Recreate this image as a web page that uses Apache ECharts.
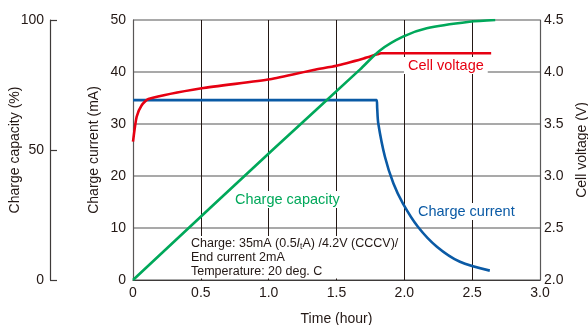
<!DOCTYPE html>
<html>
<head>
<meta charset="utf-8">
<script src="https://cdn.jsdelivr.net/npm/echarts@6/dist/echarts.min.js"></script>
<style>
html,body{margin:0;padding:0;background:#fff;}
#c{width:588px;height:325px;}
</style>
</head>
<body>
<div id="c"></div>
<script>
// Time (hour), charge current (mA)
const currentTime  = [0, 1.796, 1.80, 1.808, 1.857, 1.919, 1.99, 2.10, 2.24, 2.41, 2.63];
const currentValue = [34.6, 34.6, 33.0, 30.1, 23.7, 18.6, 14.7, 10.25, 6.4, 3.5, 1.8];

// Time (hour), cell voltage (V)
const voltageTime  = [0, 0.027, 0.064, 0.113, 0.506, 1.01, 1.33, 1.50, 1.70, 1.80, 1.83, 2.64];
const voltageValue = [3.33, 3.57, 3.68, 3.74, 3.843, 3.93, 4.02, 4.06, 4.13, 4.17, 4.18, 4.18];

// Time (hour), charge capacity (%)
const capacityTime  = [0, 1.034, 1.672, 1.82, 1.99, 2.165, 2.48, 2.67];
const capacityValue = [0, 50.3, 80.9, 88.3, 93.6, 96.8, 99.3, 100];

const xTicks = [0, 0.5, 1.0, 1.5, 2.0, 2.5, 3.0];

const zip = (a, b) => a.map((v, i) => [v, b[i]]);

const FONT = 'Liberation Sans, Arial, sans-serif';
const TXT = '#231815';
const RED = '#e60012';
const BLUE = '#0a5aa5';
const GREEN = '#00a85a';
const AX = 14;

const chart = echarts.init(document.getElementById('c'));
chart.setOption({
  animation: false,
  textStyle: { fontFamily: FONT },
  grid: { left: 133, right: 48, top: 20, bottom: 45, show: false, containLabel: false, outerBoundsMode: 'none' },
  xAxis: {
    type: 'value', min: 0, max: 3, interval: 0.5,
    name: 'Time (hour)', nameLocation: 'middle', nameGap: 32, nameMoveOverlap: false,
    nameTextStyle: { fontSize: AX, color: TXT, fontFamily: FONT },
    axisLine: { show: true, lineStyle: { color: '#3e3a39', width: 1.2 } },
    axisTick: { show: false },
    axisLabel: { fontSize: AX, color: TXT, margin: 6, fontFamily: FONT,
      formatter: v => v === 0 ? '0' : v.toFixed(1) },
    splitLine: { show: true, lineStyle: { color: '#231815', width: 1 } }
  },
  yAxis: [
    {
      type: 'value', min: 0, max: 50, interval: 10, position: 'left',
      name: 'Charge current (mA)', nameLocation: 'middle', nameGap: 32, nameRotate: 90, nameMoveOverlap: false,
      nameTextStyle: { fontSize: AX, color: TXT, fontFamily: FONT },
      axisLine: { show: true, lineStyle: { color: '#595757', width: 1.2 } },
      axisTick: { show: false },
      axisLabel: { fontSize: AX, color: TXT, margin: 7, fontFamily: FONT },
      splitLine: { show: true, lineStyle: { color: '#8c8c8c', width: 1.5 } }
    },
    {
      type: 'value', min: 0, max: 100, interval: 50, position: 'left', offset: 83,
      name: 'Charge capacity (%)', nameLocation: 'middle', nameGap: 28, nameRotate: 90, nameMoveOverlap: false,
      nameTextStyle: { fontSize: AX, color: TXT, fontFamily: FONT },
      axisLine: { show: true, lineStyle: { color: '#3e3a39', width: 1.2 } },
      axisTick: { show: true, inside: true, length: 7, lineStyle: { color: '#3e3a39', width: 1.2 } },
      axisLabel: { fontSize: AX, color: TXT, margin: 6, fontFamily: FONT },
      splitLine: { show: false }
    },
    {
      type: 'value', min: 2.0, max: 4.5, interval: 0.5, position: 'right',
      name: 'Cell voltage (V)', nameLocation: 'middle', nameGap: 35, nameRotate: 90, nameMoveOverlap: false,
      nameTextStyle: { fontSize: AX, color: TXT, fontFamily: FONT },
      axisLine: { show: true, lineStyle: { color: '#595757', width: 1.2 } },
      axisTick: { show: false },
      axisLabel: { fontSize: AX, color: TXT, margin: 4, fontFamily: FONT,
        formatter: v => v.toFixed(1) },
      splitLine: { show: false }
    }
  ],
  series: [
    { name: 'Charge current', type: 'line', yAxisIndex: 0, data: zip(currentTime, currentValue),
      smooth: 0.3, showSymbol: false, lineStyle: { color: BLUE, width: 2.6 }, z: 3 },
    { name: 'Cell voltage', type: 'line', yAxisIndex: 2, data: zip(voltageTime, voltageValue),
      smooth: 0.2, showSymbol: false, lineStyle: { color: RED, width: 2.6 }, z: 4 },
    { name: 'Charge capacity', type: 'line', yAxisIndex: 1, data: zip(capacityTime, capacityValue),
      smooth: 0.3, showSymbol: false, lineStyle: { color: GREEN, width: 2.6 }, z: 5 }
  ],
  graphic: [
    { type: 'text', left: 404, top: 57, z: 10,
      style: { text: 'Cell voltage', fill: RED, font: '14.5px ' + FONT, backgroundColor: '#fff', padding: [1, 4] } },
    { type: 'text', left: 232, top: 191, z: 10,
      style: { text: 'Charge capacity', fill: GREEN, font: '14.5px ' + FONT, backgroundColor: '#fff', padding: [1, 3] } },
    { type: 'text', left: 415, top: 203, z: 10,
      style: { text: 'Charge current', fill: BLUE, font: '14.5px ' + FONT, backgroundColor: '#fff', padding: [1, 3] } },
    { type: 'text', left: 188, top: 236, z: 10,
      style: {
        text: 'Charge: 35mA (0.5{i|I}{s|t}A) /4.2V (CCCV)/\nEnd current 2mA\nTemperature: 20 deg. C',
        fill: TXT, font: '12.5px ' + FONT, lineHeight: 13.8, backgroundColor: '#fff', padding: [1, 3, 0, 3],
        rich: {
          i: { fontStyle: 'italic', fontSize: 12.5, fontFamily: FONT, fill: TXT },
          s: { fontSize: 8.5, fontFamily: FONT, fill: TXT, verticalAlign: 'bottom', padding: [4, 0, 0, 0] }
        }
      } }
  ]
});
</script>
</body>
</html>
